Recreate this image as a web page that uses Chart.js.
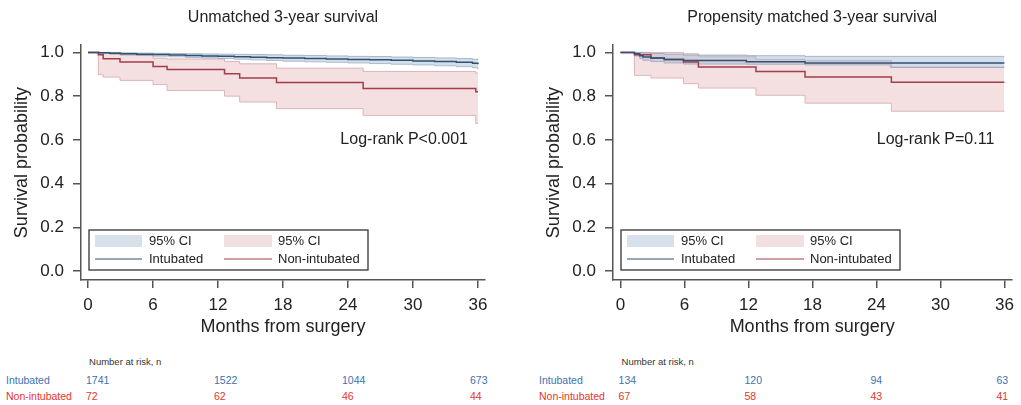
<!DOCTYPE html>
<html>
<head>
<meta charset="utf-8">
<script src="https://cdn.jsdelivr.net/npm/chart.js@4.4.1/dist/chart.umd.min.js"></script>
<style>
body { margin: 0; background: #fff; font-family: "Liberation Sans", Arial, sans-serif; }
#wrap { position: relative; width: 1021px; height: 405px; overflow: hidden; }
#wrap canvas { position: absolute; top: 0; }
.rt { position: absolute; font-size: 10.5px; line-height: 12px; white-space: nowrap; }
</style>
</head>
<body>
<div id="wrap">
  <canvas id="km1" width="505" height="345" style="left:0px"></canvas>
  <canvas id="km2" width="489" height="345" style="left:532px"></canvas>
</div>
<script>
// axis ticks
var xTicks = [0, 6, 12, 18, 24, 30, 36];
var yTicks = [0, 0.2, 0.4, 0.6, 0.8, 1.0];

// unmatched cohort
var unIntMonths = [0, 1, 2, 3, 4.5, 6, 7.5, 9, 10.5, 12, 13.5, 15, 16.5, 18, 20, 22, 24, 26, 28, 30, 32, 34, 35.5, 36];
var unInt       = [1.0, 0.998, 0.996, 0.994, 0.992, 0.990, 0.988, 0.986, 0.984, 0.982, 0.980, 0.978, 0.976, 0.974, 0.972, 0.970, 0.968, 0.966, 0.964, 0.961, 0.958, 0.955, 0.951, 0.946];
var unIntUp     = [1.0, 1.0, 0.999, 0.998, 0.997, 0.996, 0.995, 0.994, 0.993, 0.992, 0.991, 0.990, 0.989, 0.987, 0.986, 0.984, 0.982, 0.981, 0.979, 0.977, 0.975, 0.972, 0.969, 0.965];
var unIntLo     = [1.0, 0.995, 0.992, 0.989, 0.986, 0.983, 0.980, 0.977, 0.975, 0.972, 0.969, 0.966, 0.963, 0.960, 0.957, 0.955, 0.952, 0.949, 0.946, 0.943, 0.939, 0.935, 0.930, 0.922];
var unNonMonths = [0, 0.95, 1.4, 2.95, 6.0, 7.3, 12.6, 14.0, 17.4, 25.4, 35.8, 36];
var unNon       = [1.0, 0.989, 0.971, 0.956, 0.936, 0.922, 0.902, 0.883, 0.862, 0.835, 0.820, 0.820];
var unNonUp     = [1.0, 1.0, 1.0, 0.989, 0.974, 0.970, 0.959, 0.948, 0.928, 0.913, 0.905, 0.905];
var unNonLo     = [1.0, 0.898, 0.887, 0.872, 0.853, 0.826, 0.800, 0.773, 0.743, 0.712, 0.675, 0.675];

// propensity matched cohort
var pmIntMonths = [0, 1.3, 1.8, 2.1, 2.85, 4.1, 5.9, 11.8, 17.3, 25.3, 36];
var pmInt       = [1.0, 0.994, 0.985, 0.979, 0.974, 0.968, 0.963, 0.957, 0.952, 0.952, 0.952];
var pmIntUp     = [1.0, 1.0, 1.0, 0.998, 0.995, 0.992, 0.988, 0.985, 0.982, 0.982, 0.982];
var pmIntLo     = [1.0, 0.984, 0.972, 0.964, 0.958, 0.952, 0.947, 0.946, 0.943, 0.931, 0.931];
var pmNonMonths = [0, 1.3, 2.85, 4.1, 5.9, 7.3, 12.7, 17.3, 25.4, 36];
var pmNon       = [1.0, 0.989, 0.974, 0.968, 0.956, 0.933, 0.913, 0.887, 0.864, 0.864];
var pmNonUp     = [1.0, 1.0, 1.0, 1.0, 0.994, 0.983, 0.968, 0.963, 0.933, 0.933];
var pmNonLo     = [1.0, 0.895, 0.883, 0.883, 0.857, 0.837, 0.804, 0.768, 0.731, 0.731];

// number at risk
var riskMonths = [0, 12, 24, 36];
var unRiskInt = [1741, 1522, 1044, 673];
var unRiskNon = [72, 62, 46, 44];
var pmRiskInt = [134, 120, 94, 63];
var pmRiskNon = [67, 58, 43, 41];

var FONT = '"Liberation Sans", Arial, sans-serif';
Chart.defaults.font.family = FONT;
Chart.defaults.color = '#333';

function toXY(t, v) {
    return t.map(function(m, i) { return {x: m, y: v[i]}; });
}

var kmBox = {
    id: 'kmBox',
    afterDraw: function(chart, args, opts) {
        var ctx = chart.ctx, a = chart.chartArea;
        ctx.save();
        // log-rank text
        ctx.fillStyle = '#222';
        ctx.font = '16px ' + FONT;
        ctx.textAlign = 'right';
        ctx.textBaseline = 'middle';
        ctx.fillText(opts.pText, a.right - 17, chart.scales.y.getPixelForValue(0.6));

        // legend box
        var left = a.left + 8, top = a.bottom - 50;
        ctx.fillStyle = '#fff';
        ctx.fillRect(left, top, 279, 40);
        ctx.strokeStyle = '#333';
        ctx.lineWidth = 1.3;
        ctx.strokeRect(left, top, 279, 40);
        var r1 = top + 11, r2 = top + 29;
        ctx.fillStyle = '#d8e1eb';
        ctx.fillRect(left + 6, r1 - 6, 47, 12);
        ctx.fillStyle = '#f2e0e1';
        ctx.fillRect(left + 135, r1 - 6, 48, 12);
        ctx.lineWidth = 1.2;
        ctx.strokeStyle = '#33506e';
        ctx.beginPath(); ctx.moveTo(left + 6, r2); ctx.lineTo(left + 53, r2); ctx.stroke();
        ctx.strokeStyle = '#a23e4c';
        ctx.beginPath(); ctx.moveTo(left + 135, r2); ctx.lineTo(left + 183, r2); ctx.stroke();
        ctx.fillStyle = '#222';
        ctx.font = '13px ' + FONT;
        ctx.textAlign = 'left';
        ctx.fillText('95% CI', left + 60, r1);
        ctx.fillText('95% CI', left + 189, r1);
        ctx.fillText('Intubated', left + 60, r2);
        ctx.fillText('Non-intubated', left + 189, r2);
        ctx.restore();
    }
};

function makeKM(id, title, pText, yWidth, padRight, xMin, d) {
    return new Chart(document.getElementById(id), {
        type: 'line',
        data: {
            datasets: [
                {label: 'Intubated', data: toXY(d[0], d[1]), borderColor: '#33506e', borderWidth: 1.5,
                 stepped: true, pointRadius: 0, fill: false},
                {label: 'Non-intubated', data: toXY(d[4], d[5]), borderColor: '#a23e4c', borderWidth: 1.5,
                 stepped: true, pointRadius: 0, fill: false},
                {label: '95% CI', data: toXY(d[0], d[2]), borderColor: 'rgba(120,145,175,0.6)', borderWidth: 1,
                 backgroundColor: 'rgba(160,185,212,0.45)', stepped: true, pointRadius: 0, fill: '+1'},
                {label: 'lo1', data: toXY(d[0], d[3]), borderColor: 'rgba(120,145,175,0.6)', borderWidth: 1,
                 stepped: true, pointRadius: 0, fill: false},
                {label: '95% CI', data: toXY(d[4], d[6]), borderColor: 'rgba(205,160,165,0.75)', borderWidth: 1,
                 backgroundColor: 'rgba(228,176,181,0.4)', stepped: true, pointRadius: 0, fill: '+1'},
                {label: 'lo2', data: toXY(d[4], d[7]), borderColor: 'rgba(205,160,165,0.75)', borderWidth: 1,
                 stepped: true, pointRadius: 0, fill: false}
            ]
        },
        options: {
            responsive: false,
            animation: false,
            events: [],
            layout: {padding: {left: 0, right: padRight, top: 0, bottom: 0}},
            plugins: {
                legend: {display: false},
                tooltip: {enabled: false},
                title: {display: true, text: title, fullSize: false, color: '#222',
                        font: {size: 16, weight: 'normal'}, padding: {top: 8, bottom: 18}},
                kmBox: {pText: pText}
            },
            scales: {
                x: {
                    type: 'linear', min: xMin, max: 36.65,
                    afterBuildTicks: function(s) { s.ticks = xTicks.map(function(v) { return {value: v}; }); },
                    afterFit: function(s) { s.height = 65; },
                    grid: {drawOnChartArea: false, tickLength: 8, color: '#555', lineWidth: 1.5},
                    border: {color: '#555', width: 1.5},
                    ticks: {color: '#222', font: {size: 17}, padding: 7, maxRotation: 0, autoSkip: false},
                    title: {display: true, text: 'Months from surgery', color: '#222', font: {size: 18},
                            padding: {top: 0, bottom: 7}}
                },
                y: {
                    min: -0.041, max: 1.033,
                    afterBuildTicks: function(s) { s.ticks = yTicks.map(function(v) { return {value: v}; }); },
                    afterFit: function(s) { s.width = yWidth; },
                    grid: {drawOnChartArea: false, tickLength: 8, color: '#555', lineWidth: 1.5},
                    border: {color: '#555', width: 1.5},
                    ticks: {color: '#222', font: {size: 17}, padding: 9,
                            callback: function(v) { return v.toFixed(1); }},
                    title: {display: true, text: 'Survival probability', color: '#222', font: {size: 18},
                            padding: {top: 11, bottom: 0}}
                }
            }
        },
        plugins: [kmBox]
    });
}

var c1 = makeKM('km1', 'Unmatched 3-year survival', 'Log-rank P<0.001', 81, 20, -0.65,
    [unIntMonths, unInt, unIntUp, unIntLo, unNonMonths, unNon, unNonUp, unNonLo]);
var c2 = makeKM('km2', 'Propensity matched 3-year survival', 'Log-rank P=0.11', 81, 3, -0.71,
    [pmIntMonths, pmInt, pmIntUp, pmIntLo, pmNonMonths, pmNon, pmNonUp, pmNonLo]);

function addText(txt, x, yc, color, size) {
    var el = document.createElement('div');
    el.className = 'rt';
    el.textContent = txt;
    el.style.left = x + 'px';
    el.style.top = (yc - 6) + 'px';
    el.style.color = color;
    if (size) el.style.fontSize = size + 'px';
    document.getElementById('wrap').appendChild(el);
}

function riskTable(chart, offset, rowX, ints, nons) {
    var sx = chart.scales.x;
    addText('Number at risk, n', offset + sx.getPixelForValue(0) + 1, 362, '#333', 9.5);
    addText('Intubated', rowX, 380, '#3b72b3');
    addText('Non-intubated', rowX, 396, '#e8332c');
    riskMonths.forEach(function(m, i) {
        var x = offset + sx.getPixelForValue(m) - 2 - m / 6;
        addText(String(ints[i]), x, 380, '#3b72b3');
        addText(String(nons[i]), x, 396, '#e8332c');
    });
}

riskTable(c1, 0, 6, unRiskInt, unRiskNon);
riskTable(c2, 532, 539, pmRiskInt, pmRiskNon);
</script>
</body>
</html>
